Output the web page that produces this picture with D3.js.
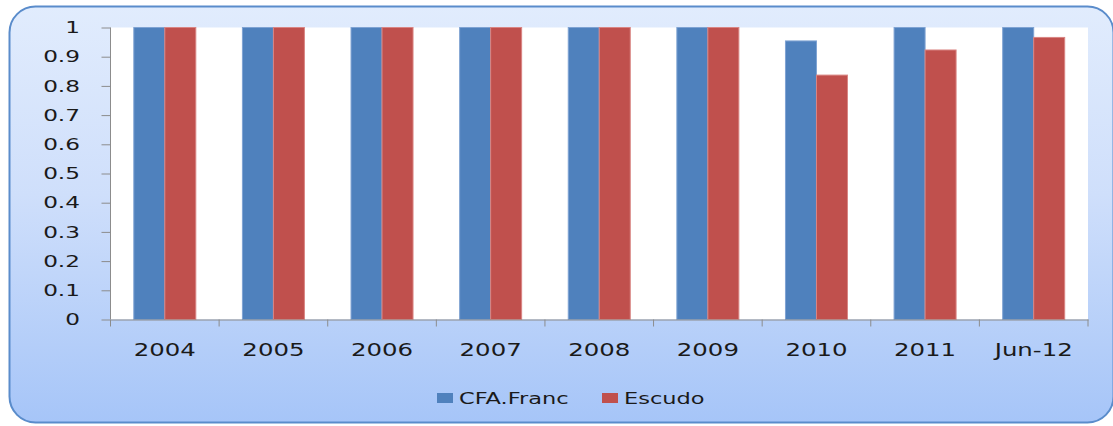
<!DOCTYPE html>
<html><head><meta charset="utf-8">
<script src="https://cdn.jsdelivr.net/npm/d3@7"></script>
<style>body{margin:0;background:#fff;}svg{display:block;}</style>
</head><body>
<script>
const categories = ["2004","2005","2006","2007","2008","2009","2010","2011","Jun-12"];
const seriesNames = ["CFA.Franc","Escudo"];
const cfaFranc = [1,1,1,1,1,1,0.954,1,1];
const escudo = [1,1,1,1,1,1,0.837,0.923,0.966];
const yTicks = [0,0.1,0.2,0.3,0.4,0.5,0.6,0.7,0.8,0.9,1];
const colors = ["#4F81BD","#C0504D"];
const borders = ["#7fa3d3","#d98583"];

(function(){
const W=1113,H=426;
const FONT="DejaVu Sans, Verdana, sans-serif";
const svg=d3.select("body").append("svg").attr("width",W).attr("height",H);
const defs=svg.append("defs");
const g=defs.append("linearGradient").attr("id","bg").attr("x1",0).attr("y1",0).attr("x2",0).attr("y2",1);
g.append("stop").attr("offset","0%").attr("stop-color","#e1ecfd");
g.append("stop").attr("offset","45%").attr("stop-color","#cfdffb");
g.append("stop").attr("offset","100%").attr("stop-color","#a6c5f8");

svg.append("rect").attr("x",9.5).attr("y",6.5).attr("width",1104).attr("height",416).attr("rx",26)
  .attr("fill","url(#bg)").attr("stroke","#5a8ccb").attr("stroke-width",2);

const pLeft=110.5,pRight=1088,pTop=27.5,pBottom=319.5;
svg.append("rect").attr("x",pLeft).attr("y",pTop).attr("width",pRight-pLeft).attr("height",pBottom-pTop).attr("fill","#fff");

const x=d3.scaleBand().domain(categories).range([pLeft,pRight]);
const y=d3.scaleLinear().domain([0,1]).range([pBottom,pTop]);
const barW=31;

const data=[cfaFranc,escudo];
data.forEach((vals,si)=>{
  svg.append("g").selectAll("rect").data(categories).join("rect")
    .attr("x",d=>x(d)+x.bandwidth()/2-barW+si*barW)
    .attr("y",(d,i)=>y(vals[i]))
    .attr("width",barW)
    .attr("height",(d,i)=>pBottom-y(vals[i]))
    .attr("fill",colors[si]).attr("stroke",borders[si]).attr("stroke-width",1);
});

const ya=svg.append("g").attr("transform",`translate(${pLeft},0)`)
  .call(d3.axisLeft(y).tickValues(yTicks).tickFormat(d=>String(+d.toFixed(1))).tickSize(9));
ya.select(".domain").attr("stroke","#8c8c8c").attr("d",`M0,${y(1)}V${pBottom}`);
ya.selectAll(".tick line").attr("stroke","#8c8c8c");
ya.selectAll(".tick text").attr("font-family",FONT).attr("font-size",16).attr("fill","#1a1a1a")
  .attr("x",0).attr("dy","0.33em").attr("transform","translate(-30.5,0) scale(1.45,1)");

const xa=svg.append("g").attr("transform",`translate(0,${pBottom})`)
  .call(d3.axisBottom(x).tickSize(0));
xa.select(".domain").attr("stroke","#8c8c8c");
xa.selectAll(".tick text").attr("font-family",FONT).attr("font-size",18.5).attr("fill","#1a1a1a")
  .attr("y",37).attr("dy",0).attr("transform","scale(1.32,1)");
const bounds=categories.map(c=>x(c)).concat([pRight]);
svg.append("g").selectAll("line").data(bounds).join("line")
  .attr("x1",d=>d).attr("x2",d=>d).attr("y1",pBottom).attr("y2",pBottom+7).attr("stroke","#8c8c8c");

const lg=svg.append("g");
const lx=[437,602];
seriesNames.forEach((n,i)=>{
  lg.append("rect").attr("x",lx[i]).attr("y",393).attr("width",16).attr("height",10).attr("fill",colors[i]);
  lg.append("text").attr("transform",`translate(${lx[i]+22},404) scale(1.5,1)`).text(n)
    .attr("font-family",FONT).attr("font-size",15).attr("fill","#1a1a1a");
});
})();
</script>
</body></html>
